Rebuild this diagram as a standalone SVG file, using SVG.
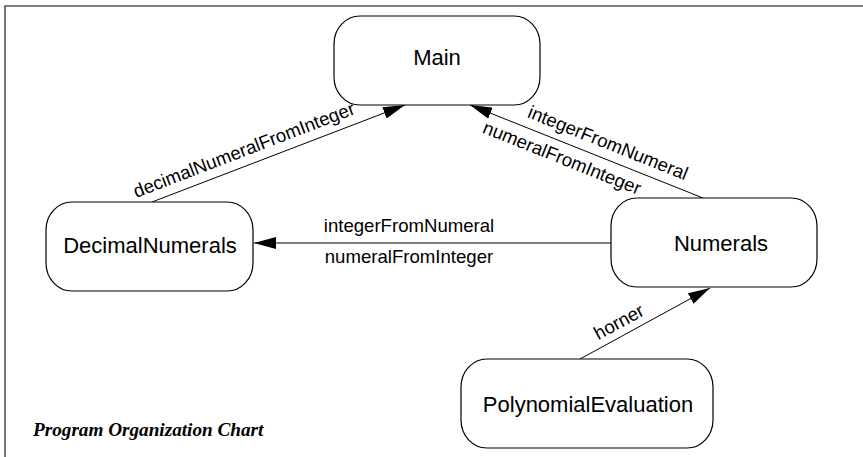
<svg xmlns="http://www.w3.org/2000/svg" width="863" height="457" viewBox="0 0 863 457">
<style>
.node rect{fill:#fff;stroke:#000;stroke-width:1.2}
.node text{font-family:"Liberation Sans",Arial,sans-serif;font-size:22px;text-anchor:middle;fill:#000}
.lbl{font-family:"Liberation Sans",Arial,sans-serif;font-size:18.6px;text-anchor:middle;fill:#000}
.edge{stroke:#000;stroke-width:1;fill:none;marker-end:url(#arr)}
.frame{stroke:#555;stroke-width:1.6;fill:none}
.title{font-family:"Liberation Serif","Times New Roman",serif;font-size:19.2px;font-weight:bold;font-style:italic;fill:#000}
</style>
<defs>
<marker id="arr" viewBox="0 0 22 12" refX="22" refY="6" markerWidth="22" markerHeight="12" markerUnits="userSpaceOnUse" orient="auto">
<path d="M0,0 L22,6 L0,12 z" fill="#000"/>
</marker>
</defs>
<rect width="863" height="457" fill="#fff"/>
<path class="frame" d="M5,457 V6 H863"/>
<g id="connectors">
<line class="edge" x1="152" y1="202" x2="405" y2="105"/>
<text class="lbl" transform="translate(244,150) rotate(-21)" dy="0.33em">decimalNumeralFromInteger</text>
<line class="edge" x1="703" y1="198" x2="470" y2="105"/>
<text class="lbl" transform="translate(608,143) rotate(21.8)" dy="0.33em">integerFromNumeral</text>
<text class="lbl" transform="translate(562,158) rotate(21.8)" dy="0.33em">numeralFromInteger</text>
<line class="edge" x1="611" y1="243" x2="254" y2="243"/>
<text class="lbl" x="409" y="232">integerFromNumeral</text>
<text class="lbl" x="409" y="263">numeralFromInteger</text>
<line class="edge" x1="580" y1="359" x2="710" y2="288"/>
<text class="lbl" transform="translate(619,322) rotate(-28.6)" dy="0.33em">horner</text>
</g>
<g id="Main" class="node"><rect x="334" y="16" width="206" height="89" rx="26" ry="28"/><text x="437" y="65">Main</text></g>
<g id="DecimalNumerals" class="node"><rect x="46" y="202" width="207" height="89" rx="26" ry="28"/><text x="150" y="253">DecimalNumerals</text></g>
<g id="Numerals" class="node"><rect x="611" y="198" width="206" height="89" rx="26" ry="28"/><text x="721" y="251">Numerals</text></g>
<g id="PolynomialEvaluation" class="node"><rect x="461" y="359" width="252" height="89" rx="26" ry="28"/><text x="588" y="412">PolynomialEvaluation</text></g>
<text class="title" x="33" y="436">Program Organization Chart</text>
</svg>
